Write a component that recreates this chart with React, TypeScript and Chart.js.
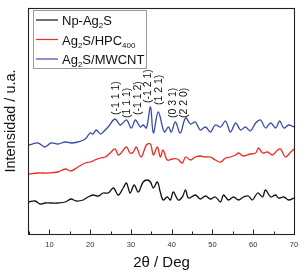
import React, { useEffect, useRef } from "react";
import { Chart, registerables } from "chart.js";

Chart.register(...registerables);

// ---- data (2θ in degrees, intensity in arbitrary units) ----
const blackX = [5.0, 6.5, 7.7, 8.9, 10.4, 12.1, 13.9, 15.3, 16.6, 18.3, 19.5, 20.7, 22.0, 23.2, 24.4, 25.7, 26.9, 28.1, 28.9, 29.8, 30.8, 31.8, 33.0, 34.0, 34.8, 35.5, 36.5, 37.2, 37.9, 38.9, 39.7, 40.4, 41.6, 42.6, 43.4, 44.1, 45.8, 47.0, 48.3, 49.5, 50.7, 52.0, 52.7, 53.9, 55.2, 56.4, 57.6, 58.8, 59.8, 61.1, 62.3, 63.0, 64.3, 65.5, 66.2, 67.5, 68.7, 70.0];
const blackY = [32, 33, 30, 31, 31, 31, 32, 35, 33, 34, 37, 39, 38, 41, 41, 46, 39, 46, 51, 41, 49, 42, 52, 54, 52, 46, 52, 42, 34, 37, 34, 42, 34, 37, 44, 36, 39, 35, 38, 35, 37, 32, 39, 34, 37, 34, 37, 38, 34, 41, 37, 44, 37, 39, 36, 37, 34, 36];

const redX = [5.0, 7.2, 9.7, 12.1, 13.9, 15.3, 17.0, 18.8, 20.0, 21.2, 22.5, 23.7, 24.9, 26.1, 26.9, 27.6, 28.9, 29.8, 30.6, 31.3, 32.5, 33.8, 34.8, 35.5, 36.5, 37.2, 37.9, 38.9, 40.2, 41.4, 42.6, 43.4, 44.6, 45.8, 47.0, 48.3, 49.5, 50.7, 52.0, 53.2, 54.4, 55.7, 56.4, 57.6, 59.3, 60.6, 61.3, 62.3, 63.5, 64.7, 66.0, 66.7, 67.9, 69.2, 70.0];
const redY = [60, 61, 61, 62, 65, 63, 67, 71, 72, 74, 76, 77, 81, 85, 79, 81, 87, 81, 82, 87, 77, 89, 90, 79, 87, 77, 84, 74, 75, 75, 71, 77, 74, 77, 78, 77, 77, 74, 72, 76, 77, 79, 81, 78, 80, 81, 86, 81, 82, 79, 84, 85, 77, 82, 85];

const blueX = [5.0, 7.2, 8.9, 10.4, 12.1, 13.9, 15.3, 17.0, 18.8, 20.0, 20.7, 21.5, 22.5, 23.2, 24.4, 26.1, 27.4, 28.9, 30.1, 31.1, 32.3, 33.0, 33.8, 34.8, 35.5, 36.7, 38.2, 39.2, 39.9, 40.9, 42.1, 43.4, 44.6, 45.8, 47.0, 48.3, 49.5, 50.7, 52.0, 53.2, 54.4, 55.7, 56.9, 58.1, 59.3, 60.6, 61.8, 63.0, 64.3, 65.5, 66.5, 67.5, 68.7, 70.0];
const blueY = [89, 91, 87, 91, 90, 92, 91, 92, 95, 101, 100, 104, 100, 102, 107, 115, 109, 114, 106, 114, 107, 109, 106, 127, 101, 122, 102, 107, 102, 112, 101, 116, 110, 112, 104, 107, 102, 109, 107, 113, 102, 111, 104, 107, 103, 111, 114, 106, 111, 106, 113, 106, 109, 107];

const seriesNames = ["Np-Ag{2}S", "Ag{2}S/HPC{400}", "Ag{2}S/MWCNT"];
const seriesColors = ["#111111", "#ee2a24", "#3b4ba6"];

const peakLabels = ["(-1 1 1)", "(1 1 1)", "(-1 1 2)", "(-1 2 1)", "(1 2 1)", "(0 3 1)", "(2 2 0)"];
const peakPos = [26.4, 29.1, 31.8, 34.3, 37.0, 40.4, 43.1];
const peakLabelBase = [119, 116, 119, 131, 129, 116, 116];

const xMin = 5;
const xMax = 70;
const yMin = 0;
const yMax = 226;
const xTitle = "2θ / Deg";
const yTitle = "Intensidad / u.a.";

const FONT = "'Liberation Sans', Arial, Helvetica, sans-serif";

function toPoints(xs: number[], ys: number[]) {
  return xs.map((x, i) => ({ x, y: ys[i] }));
}

function parseRich(s: string) {
  const parts: { t: string; sub: boolean }[] = [];
  const re = /\{([^}]*)\}|([^{]+)/g;
  let m: RegExpExecArray | null;
  while ((m = re.exec(s))) {
    if (m[1] !== undefined) parts.push({ t: m[1], sub: true });
    else parts.push({ t: m[2], sub: false });
  }
  return parts;
}

const overlay = {
  id: "overlay",
  afterDraw(chart: any) {
    const { ctx, chartArea: a, scales } = chart;
    const xs = scales.x;
    const ys = scales.y;
    ctx.save();
    // frame
    ctx.strokeStyle = "#222";
    ctx.lineWidth = 1.1;
    ctx.strokeRect(a.left - 0.5, a.top + 0.5, a.right - a.left + 1, a.bottom - a.top);
    // inward ticks
    ctx.lineWidth = 1;
    ctx.beginPath();
    for (let v = xMin; v <= xMax; v += 5) {
      const px = Math.round(xs.getPixelForValue(v)) + 0.5;
      const len = v % 10 === 0 ? 4.5 : 2.5;
      ctx.moveTo(px, a.bottom);
      ctx.lineTo(px, a.bottom - len);
    }
    ctx.stroke();
    // peak labels
    ctx.fillStyle = "#111";
    ctx.font = `10.5px ${FONT}`;
    ctx.textAlign = "left";
    ctx.textBaseline = "middle";
    peakLabels.forEach((lab, i) => {
      ctx.save();
      ctx.translate(xs.getPixelForValue(peakPos[i]), ys.getPixelForValue(peakLabelBase[i]));
      ctx.rotate(-Math.PI / 2);
      ctx.fillText(lab, 0, 0);
      ctx.restore();
    });
    // legend
    const lx = a.left + 4.5;
    const ly = a.top + 2.5;
    ctx.strokeStyle = "#999";
    ctx.lineWidth = 1;
    ctx.strokeRect(lx, ly, 113, 58);
    seriesNames.forEach((name, i) => {
      const yy = a.top + 12 + i * 19.5;
      ctx.strokeStyle = seriesColors[i];
      ctx.lineWidth = 1.2;
      ctx.beginPath();
      ctx.moveTo(lx + 2.5, yy);
      ctx.lineTo(lx + 24.5, yy);
      ctx.stroke();
      let tx = lx + 28.5;
      const base = yy + 5;
      ctx.fillStyle = "#111";
      ctx.textBaseline = "alphabetic";
      parseRich(name).forEach((p) => {
        if (p.sub) {
          ctx.font = `8px ${FONT}`;
          ctx.fillText(p.t, tx, base + 3);
        } else {
          ctx.font = `13px ${FONT}`;
          ctx.fillText(p.t, tx, base);
        }
        tx += ctx.measureText(p.t).width;
      });
    });
    ctx.restore();
  },
};

export default function App() {
  const ref = useRef<HTMLCanvasElement | null>(null);
  useEffect(() => {
    if (!ref.current) return;
    const chart = new Chart(ref.current, {
      type: "line",
      data: {
        datasets: [
          { label: "black", data: toPoints(blackX, blackY), borderColor: seriesColors[0] },
          { label: "red", data: toPoints(redX, redY), borderColor: seriesColors[1] },
          { label: "blue", data: toPoints(blueX, blueY), borderColor: seriesColors[2] },
        ].map((d) => ({ ...d, borderWidth: 1.3, pointRadius: 0, tension: 0.35, fill: false })),
      },
      options: {
        animation: false,
        responsive: false,
        devicePixelRatio: 1,
        layout: { padding: { top: 8, right: 12, left: 0, bottom: 0 } },
        plugins: { legend: { display: false }, tooltip: { enabled: false } },
        scales: {
          x: {
            type: "linear",
            min: xMin,
            max: xMax,
            grid: { display: false, drawTicks: false },
            border: { display: false },
            ticks: {
              stepSize: 5,
              padding: 6,
              color: "#333",
              font: { size: 7.5, family: FONT },
              maxRotation: 0,
              autoSkip: false,
              callback: (v: any) => (Number(v) % 10 === 0 ? String(v) : ""),
            },
            title: {
              display: true,
              text: xTitle,
              color: "#111",
              font: { size: 15, family: FONT },
              padding: { top: 0, bottom: 4 },
            },
            afterFit: (s: any) => {
              s.height = 42;
            },
          },
          y: {
            type: "linear",
            min: yMin,
            max: yMax,
            grid: { display: false, drawTicks: false },
            border: { display: false },
            ticks: { display: false },
            title: {
              display: true,
              text: yTitle,
              color: "#111",
              font: { size: 14.5, family: FONT },
              padding: { top: 2, bottom: 0 },
            },
            afterFit: (s: any) => {
              s.width = 29;
            },
          },
        },
      },
      plugins: [overlay],
    });
    return () => chart.destroy();
  }, []);
  return (
    <div style={{ position: "absolute", left: 0, top: 0, width: 306, height: 276, background: "#fff" }}>
      <canvas ref={ref} width={306} height={276} />
    </div>
  );
}
